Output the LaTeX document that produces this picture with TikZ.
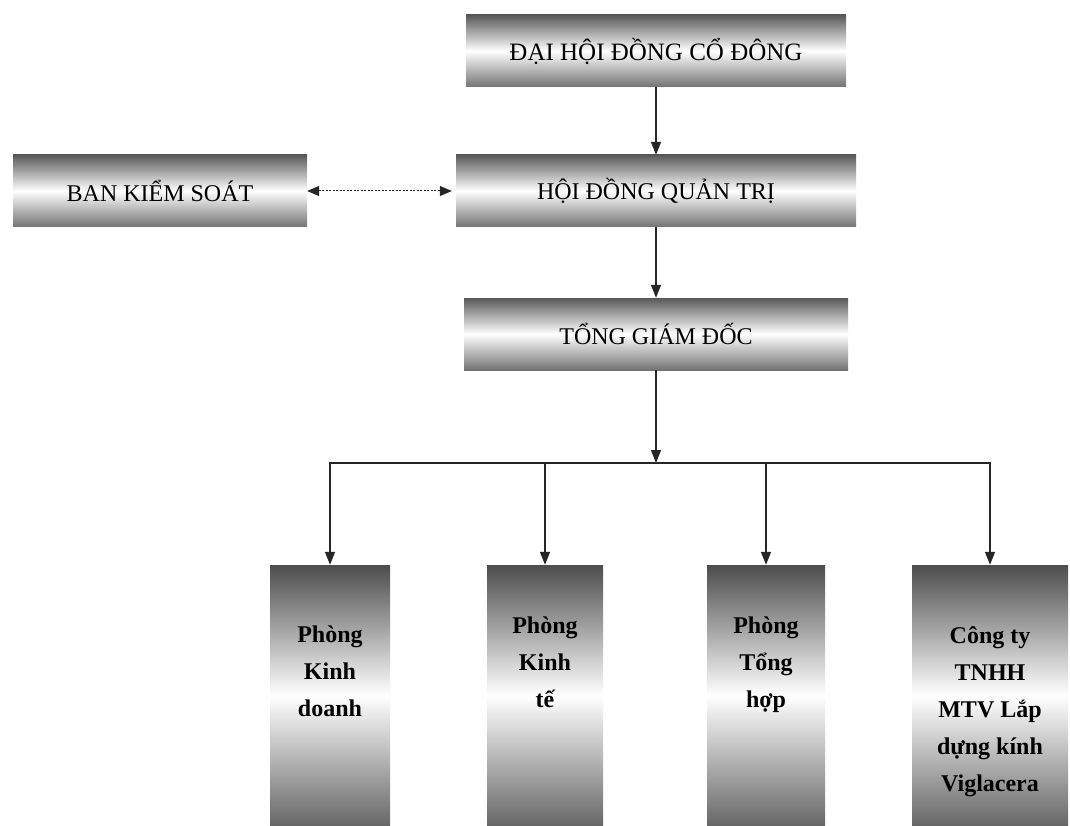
\documentclass[tikz,border=0pt]{standalone}
\usepackage{fontspec}
\setmainfont{Liberation Serif}
\usetikzlibrary{arrows.meta}

\begin{document}
\begin{tikzpicture}[x=1pt,y=-1pt,
	hbox/.style={rectangle, inner sep=0pt, minimum height=72pt, top color=black!65, bottom color=black!55, middle color=white, font=\fontsize{24}{28}\selectfont},
	vbox/.style={rectangle, inner sep=0pt, minimum height=261pt, top color=black!70, bottom color=black!60, middle color=white},
	vtext/.style={anchor=north, align=center, inner sep=0pt, font=\bfseries\fontsize{24}{37}\selectfont},
	link/.style={-{Triangle[length=13pt,width=10pt]}, line width=1.4pt, draw=black!85}]
	\useasboundingbox (0,0) rectangle (1070,826);

	\node 	(dhcd)	at	(656,51) 	[hbox, minimum width=380pt, font=\fontsize{25}{28}\selectfont]{ĐẠI HỘI ĐỒNG CỔ ĐÔNG};
	\node 	(hdqt)	at	(656,191) 	[hbox, minimum width=400pt]{HỘI ĐỒNG QUẢN TRỊ};
	\node 	(bks)	at	(160,191) 	[hbox, minimum width=294pt]{BAN KIỂM SOÁT};
	\node 	(tgd)	at	(656,334) 	[hbox, minimum width=384pt]{TỔNG GIÁM ĐỐC};

	\draw[link] (dhcd) -- (hdqt);
	\draw[link] (hdqt) -- (tgd);
	\draw[{Triangle[length=12pt,width=10pt]}-{Triangle[length=12pt,width=10pt]}, line width=1pt, dash pattern=on 2pt off 1.5pt, draw=black!85, shorten >=4pt] (bks) -- (hdqt);

	% phong ban
	\node 	(pkd)	at	(330,695.5) 	[vbox, minimum width=120pt]{};
	\node 	(pkt)	at	(545,695.5) 	[vbox, minimum width=116pt]{};
	\node 	(pth)	at	(766,695.5) 	[vbox, minimum width=118pt]{};
	\node 	(ct)	at	(990,695.5) 	[vbox, minimum width=156pt]{};

	\node 	(pkdtxt)	at	(330,626) 	[vtext]{Phòng\\Kinh\\doanh};
	\node 	(pkttxt)	at	(545,617) 	[vtext]{Phòng\\Kinh\\tế};
	\node 	(pthtxt)	at	(766,617) 	[vtext]{Phòng\\Tổng\\hợp};
	\node 	(cttxt)	at	(990,626) 	[vtext]{Công ty\\TNHH\\MTV Lắp\\dựng kính\\Viglacera};

	\coordinate (bus) at (656,463);
	\draw[link] (tgd) -- (bus);
	\foreach \b in {pkd,pkt,pth,ct}
		\draw[link] (bus) -| (\b.north);

\end{tikzpicture}
\end{document}
